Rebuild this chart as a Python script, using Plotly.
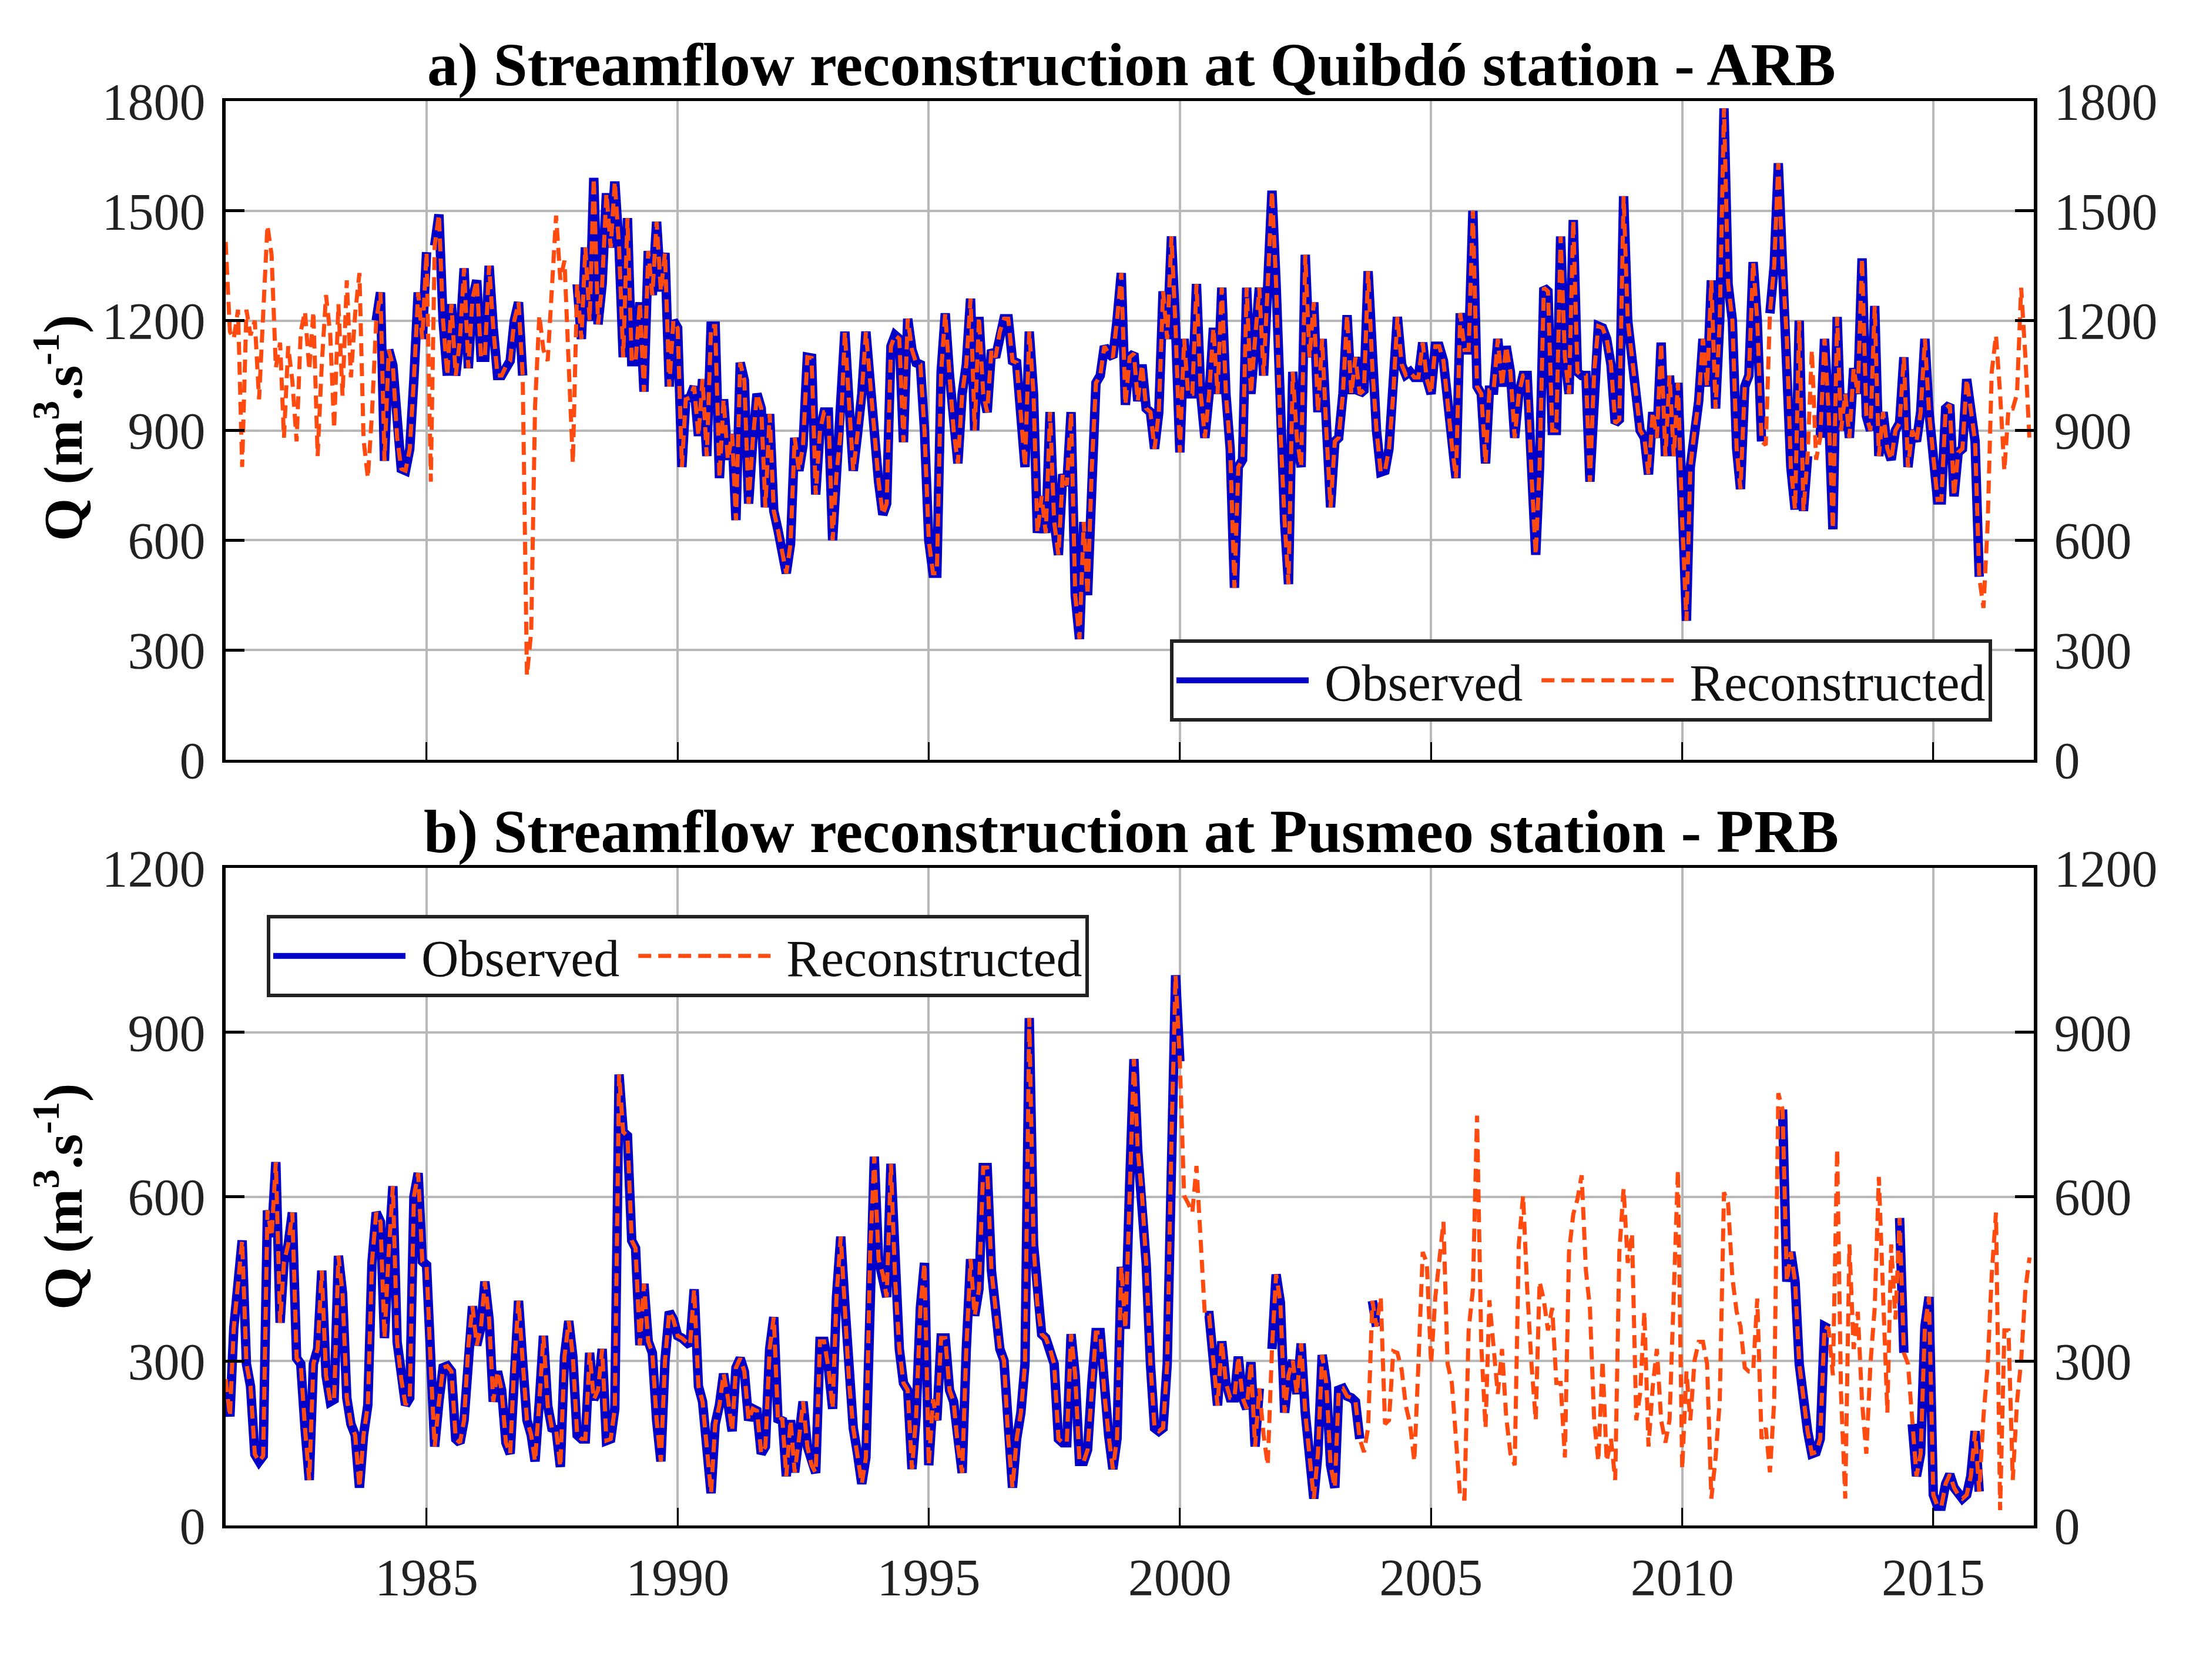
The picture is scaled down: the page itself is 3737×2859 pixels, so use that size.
import pandas as pd
import plotly.graph_objects as go

# monthly streamflow, one row per year (1981-2016)
quibdo_q = [
	1415, 1170, 1150, 1230, 800, 1230, 1160, 1200, 985, 1240, 1460, 1380,
	1072, 1140, 880, 1130, 1035, 870, 1170, 1225, 1065, 1225, 830, 1080,
	1270, 1160, 905, 1245, 995, 1310, 1045, 1220, 1330, 875, 770, 945,
	1200, 1277, 817, 1120, 1078, 880, 795, 790, 850, 1040, 1277, 1150,
	1387, 760, 1405, 1490, 1200, 1050, 1245, 1050, 1150, 1343, 1070, 1260,
	1310, 1100, 1100, 1350, 1180, 1050, 1050, 1075, 1090, 1200, 1250, 1050,
	230, 350, 965, 1215, 1120, 1090, 1310, 1487, 1312, 1364, 1077, 811,
	1300, 1150, 1400, 1200, 1590, 1190, 1300, 1548, 1400, 1580, 1400, 1100,
	1480, 1088, 1088, 1250, 1006, 1390, 1270, 1470, 1280, 1385, 1020, 1200,
	1180, 800, 985, 990, 1020, 885, 1040, 830, 1185, 1185, 770, 985,
	820, 890, 655, 1085, 1037, 700, 870, 1000, 960, 690, 945, 680,
	627, 570, 510, 590, 880, 790, 860, 1100, 1098, 725, 900, 950,
	950, 600, 780, 900, 1170, 970, 790, 890, 1000, 1170, 1020, 900,
	760, 670, 700, 1130, 1160, 1150, 868, 1205, 1120, 1085, 1080, 900,
	600, 510, 510, 1060, 1220, 1050, 900, 810, 1000, 1080, 1260, 900,
	1210, 1000, 950, 1120, 1100, 1170, 1205, 1205, 1090, 1085, 950, 800,
	1170, 1000, 620, 720, 620, 950, 650, 560, 780, 750, 950, 450,
	330, 650, 450, 800, 1030, 1050, 1130, 1110, 1100, 1200, 1330, 970,
	1100, 1110, 980, 1080, 960, 950, 850, 950, 1280, 1150, 1430, 1180,
	840, 1150, 1000, 1000, 1300, 1000, 880, 1000, 1180, 1000, 1290, 1000,
	850, 470, 800, 820, 1290, 1000, 1150, 1290, 1050, 1300, 1555, 1300,
	900, 650, 480, 1060, 880, 800, 1380, 1100, 1250, 950, 1150, 900,
	690, 870, 880, 1000, 1215, 1000, 1100, 1000, 1010, 1335, 1070, 900,
	786, 790, 850, 1000, 1210, 1080, 1052, 1060, 1045, 1045, 1140, 1040,
	1000, 1130, 1130, 1090, 970, 860, 770, 1220, 1120, 1120, 1500, 1020,
	1000, 810, 1010, 1010, 1150, 1020, 1130, 1060, 880, 1000, 1050, 1050,
	780, 560, 800, 1290, 1280, 900, 900, 1430, 1100, 1000, 1475, 1060,
	1050, 1050, 760, 1060, 1185, 1180, 1150, 1080, 920, 930, 1540, 1200,
	1100, 1000, 900, 880, 780, 950, 880, 1140, 830, 1050, 830, 1030,
	650, 380, 800, 900, 980, 1150, 1020, 1310, 960, 1200, 1780, 1300,
	1200, 850, 740, 1020, 1050, 1360, 1200, 870, 860, 1220, 1350, 1630,
	1350, 1150, 800, 684, 1200, 680, 830, 1120, 820, 880, 1150, 950,
	630, 1210, 900, 1000, 880, 1070, 1000, 1370, 940, 900, 1240, 830,
	950, 850, 820, 900, 920, 1100, 800, 900, 870, 950, 1150, 950,
	820, 710, 710, 960, 970, 720, 840, 850, 1040, 950, 870, 500,
	415, 650, 1060, 1160, 1000, 790, 960, 960, 1000, 1290, 1100, 870,
]
pusmeo_q = [
	267, 199, 360, 438, 520, 295, 254, 130, 117, 127, 575, 527,
	663, 370, 480, 513, 571, 305, 295, 178, 83, 295, 322, 465,
	274, 226, 230, 492, 424, 233, 185, 165, 69, 165, 220, 480,
	571, 554, 342, 500, 619, 335, 267, 220, 233, 600, 643, 482,
	475, 288, 144, 226, 288, 291, 281, 158, 151, 192, 329, 400,
	329, 363, 445, 376, 226, 281, 247, 151, 131, 295, 410, 300,
	192, 165, 117, 226, 346, 219, 178, 175, 107, 308, 373, 308,
	165, 158, 158, 315, 230, 247, 322, 155, 158, 213, 823, 718,
	711, 520, 506, 329, 441, 336, 315, 192, 117, 301, 390, 376,
	346, 342, 336, 329, 431, 254, 226, 151, 59, 185, 220, 277,
	233, 172, 288, 305, 281, 192, 213, 209, 131, 144, 322, 380,
	189, 196, 90, 192, 97, 158, 226, 144, 110, 96, 336, 336,
	288, 213, 417, 527, 404, 260, 178, 131, 76, 124, 499, 673,
	486, 458, 417, 660, 452, 322, 260, 247, 103, 199, 397, 479,
	110, 230, 192, 342, 342, 247, 226, 144, 96, 322, 486, 383,
	431, 653, 653, 465, 390, 322, 301, 158, 69, 158, 206, 295,
	926, 513, 404, 349, 342, 322, 295, 158, 151, 151, 349, 274,
	117, 117, 138, 260, 352, 352, 240, 165, 103, 158, 472, 359,
	622, 851, 684, 602, 479, 295, 178, 172, 178, 295, 704, 1004,
	847, 602, 588, 571, 656, 499, 383, 383, 301, 219, 336, 260,
	233, 233, 308, 233, 213, 298, 144, 250, 165, 110, 322, 458,
	407, 206, 274, 301, 240, 332, 206, 117, 49, 131, 311, 260,
	110, 69, 247, 250, 236, 233, 226, 158, 134, 178, 410, 363,
	417, 185, 192, 318, 315, 284, 219, 185, 117, 295, 499, 479,
	295, 417, 486, 554, 295, 260, 158, 49, 49, 356, 431, 748,
	329, 178, 411, 322, 240, 322, 199, 131, 110, 513, 602, 431,
	295, 192, 445, 411, 356, 397, 260, 260, 124, 499, 568, 595,
	639, 465, 397, 192, 117, 301, 117, 158, 83, 499, 615, 479,
	533, 192, 240, 390, 144, 254, 322, 192, 151, 192, 431, 649,
	103, 281, 192, 301, 335, 335, 295, 49, 124, 226, 608, 588,
	452, 390, 363, 288, 281, 281, 414, 158, 178, 97, 226, 789,
	759, 445, 499, 445, 295, 226, 172, 131, 134, 158, 363, 359,
	274, 687, 240, 49, 513, 322, 390, 226, 131, 295, 397, 636,
	431, 206, 513, 376, 561, 315, 295, 185, 90, 131, 363, 417,
	56, 35, 35, 76, 93, 69, 56, 49, 56, 90, 172, 62,
	199, 295, 458, 571, 28, 356, 356, 83, 226, 301, 431, 489,
]

# months with gauge records, the rest is reconstruction only
quibdo_observed = [
	("1984-01", "1985-01"), ("1985-03", "1986-12"), ("1988-01", "2011-08"),
	("2011-10", "2012-07"), ("2012-10", "2015-12"),
]
pusmeo_observed = [
	("1981-01", "2000-01"), ("2000-07", "2001-08"), ("2001-11", "2003-08"),
	("2003-11", "2003-12"), ("2012-01", "2012-12"), ("2014-05", "2014-06"),
	("2014-08", "2015-12"),
]

# the page body adds an 8px margin round the figure
BODY = 8
W, H = 3737 - BODY, 2859 - BODY
SERIF = "Liberation Serif"
BLUE = "#0000c8"
ORANGE = "#ff4a10"
GRID = "#b8b8b8"


def px_x(v):
	return (v - BODY) / W


def px_y(v):
	return 1 - (v - BODY) / H


def observed_only(values, periods):
	s = pd.Series(values, index=pd.date_range("1981-01-01", periods=len(values), freq="MS"), dtype=float)
	keep = pd.Series(False, index=s.index)
	for start, end in periods:
		keep[start:end] = True
	return [float(v) if k else None for v, k in zip(s, keep)]


months = pd.date_range("1981-01-01", periods=len(quibdo_q), freq="MS")

fig = go.Figure()

panels = [
	(quibdo_q, quibdo_observed, "x", "y", "y2", "legend"),
	(pusmeo_q, pusmeo_observed, "x2", "y3", "y4", "legend2"),
]
for values, periods, xa, ya, ya_right, leg in panels:
	fig.add_trace(go.Scatter(
		x=months, y=observed_only(values, periods), name="\u00a0Observed\u00a0", mode="lines",
		line={"color": BLUE, "width": 16}, xaxis=xa, yaxis=ya, legend=leg,
	))
	# on the right hand axis so it sits over the blue line
	fig.add_trace(go.Scatter(
		x=months, y=values, name="\u00a0Reconstructed", mode="lines",
		line={"color": ORANGE, "width": 7, "dash": "22px,12px"}, xaxis=xa, yaxis=ya_right, legend=leg,
	))

x_common = dict(
	type="date", range=["1981-01-01", "2017-01-01"], domain=[px_x(384), px_x(3461)],
	tick0="1985-01-01", dtick="M60", tickformat="%Y",
	showgrid=True, gridcolor=GRID, gridwidth=4,
	ticks="inside", ticklen=30, tickwidth=3, tickcolor="black",
	showline=True, linecolor="black", linewidth=5, mirror=True,
	tickfont={"family": SERIF, "size": 88, "color": "#222"},
)
y_common = dict(
	dtick=300, tick0=0, ticks="inside", ticklen=32, tickwidth=5, tickcolor="black",
	showline=True, linecolor="black", linewidth=6,
	tickfont={"family": SERIF, "size": 88, "color": "#222"}, ticklabelstandoff=11,
)
dom_a = [px_y(1293), px_y(172)]
dom_b = [px_y(2596), px_y(1477)]

fig.update_layout(
	width=W,
	height=H,
	autosize=False,
	margin={"l": 0, "r": 0, "t": 0, "b": 0, "pad": 0, "autoexpand": False},
	paper_bgcolor="white",
	plot_bgcolor="white",
	showlegend=True,
	xaxis=dict(x_common, anchor="y", showticklabels=False),
	xaxis2=dict(x_common, anchor="y3", ticklabelstandoff=7),
	yaxis=dict(y_common, domain=dom_a, range=[0, 1800], anchor="x", showgrid=True, gridcolor=GRID, gridwidth=4, zeroline=False),
	yaxis2=dict(y_common, domain=dom_a, range=[0, 1800], anchor="x", overlaying="y", side="right", showgrid=False, zeroline=False),
	yaxis3=dict(y_common, domain=dom_b, range=[0, 1200], anchor="x2", showgrid=True, gridcolor=GRID, gridwidth=4, zeroline=False),
	yaxis4=dict(y_common, domain=dom_b, range=[0, 1200], anchor="x2", overlaying="y3", side="right", showgrid=False, zeroline=False),
	legend=dict(
		orientation="h", x=px_x(1991), y=px_y(1088), xanchor="left", yanchor="top",
		bgcolor="white", bordercolor="#222", borderwidth=6, itemwidth=225,
		font={"family": SERIF, "size": 88, "color": "#111"},
	),
	legend2=dict(
		orientation="h", x=px_x(454), y=px_y(1557), xanchor="left", yanchor="top",
		bgcolor="white", bordercolor="#222", borderwidth=6, itemwidth=225,
		font={"family": SERIF, "size": 88, "color": "#111"},
	),
)

titles = [
	("a) Streamflow reconstruction at Quibdó station - ARB", 110),
	("b) Streamflow reconstruction at Pusmeo station - PRB", 1415),
]
for text, ypx in titles:
	fig.add_annotation(
		text=f"<b>{text}</b>", xref="paper", yref="paper", x=px_x(1925), y=px_y(ypx),
		xanchor="center", yanchor="middle", showarrow=False,
		font={"family": SERIF, "size": 104, "color": "black"},
	)

for ypx in (729, 2037):
	fig.add_annotation(
		text="<b>Q (m<sup>3</sup>.s<sup>-1</sup>)</b>", xref="paper", yref="paper", x=px_x(100), y=px_y(ypx),
		xanchor="center", yanchor="middle", textangle=-90, showarrow=False,
		font={"family": SERIF, "size": 94, "color": "black"},
	)

fig.write_html("out.html")
